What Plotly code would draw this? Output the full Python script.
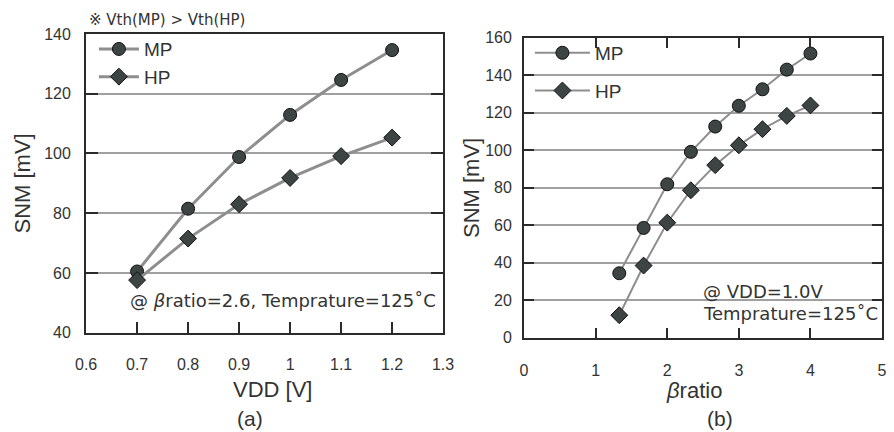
import plotly.graph_objects as go

# (a) SNM versus supply voltage
vdd = [0.7, 0.8, 0.9, 1.0, 1.1, 1.2]
snm_vdd_mp = [60.5, 81.5, 98.8, 112.9, 124.6, 134.6]
snm_vdd_hp = [57.6, 71.5, 83.0, 91.8, 99.1, 105.3]

# (b) SNM versus beta ratio
beta = [1.33, 1.67, 2.0, 2.33, 2.67, 3.0, 3.33, 3.67, 4.0]
snm_beta_mp = [34.3, 58.5, 81.8, 99.1, 112.6, 123.7, 132.5, 143.0, 151.6]
snm_beta_hp = [11.9, 38.4, 61.3, 78.6, 92.0, 102.6, 111.2, 118.3, 123.9]

x_ticks_a = [0.6, 0.7, 0.8, 0.9, 1.0, 1.1, 1.2, 1.3]
x_labels_a = ["0.6", "0.7", "0.8", "0.9", "1", "1.1", "1.2", "1.3"]
y_ticks_a = [40, 60, 80, 100, 120, 140]
x_ticks_b = [0, 1, 2, 3, 4, 5]
y_ticks_b = [0, 20, 40, 60, 80, 100, 120, 140, 160]

W, H = 894, 432
LINE = "#8e8e8e"
MARK = "#3d4444"
FRAME = "#2a2a2a"
GRID = "#a0a0a0"
TXT = "#333333"
FONT = "Liberation Sans, Arial, sans-serif"
NFONT = "DejaVu Sans, Liberation Sans, sans-serif"

fig = go.Figure()

def add_series(x, y, name, symbol, xa, ya, legend, lw, group):
    fig.add_trace(go.Scatter(
        x=x, y=y, name=name, mode="lines+markers",
        line=dict(color=LINE, width=lw),
        marker=dict(symbol=symbol, size=13, color=MARK,
                    line=dict(color="#111111", width=1)),
        xaxis=xa, yaxis=ya, legend=legend, legendgroup=group,
        cliponaxis=False,
    ))

add_series(vdd, snm_vdd_mp, "MP", "circle", "x", "y", "legend", 3, "a1")
add_series(vdd, snm_vdd_hp, "HP", "diamond", "x", "y", "legend", 3, "a2")
add_series(beta, snm_beta_mp, "MP", "circle", "x2", "y2", "legend2", 2, "b1")
add_series(beta, snm_beta_hp, "HP", "diamond", "x2", "y2", "legend2", 2, "b2")

dom_ax = [77 / W, 443 / W]
dom_ay = [1 - 338 / H, 1 - 27 / H]
dom_bx = [526 / W, 893 / W]
dom_by = [1 - 343 / H, 1 - 31 / H]

tickfont = dict(family=FONT, size=16, color=TXT)
common = dict(showline=True, linecolor=FRAME, linewidth=2, ticks="inside",
              tickcolor=FRAME, tickwidth=1.5, tickfont=tickfont,
              zeroline=False, fixedrange=True)

fig.update_layout(
    width=W, height=H,
    margin=dict(l=0, r=0, t=0, b=0),
    paper_bgcolor="white", plot_bgcolor="white",
    xaxis=dict(domain=dom_ax, range=[0.6, 1.3], tickvals=x_ticks_a,
               ticktext=x_labels_a, showgrid=False, mirror=True,
               ticklen=11, ticklabelstandoff=16, anchor="y", **common),
    yaxis=dict(domain=dom_ay, range=[40, 140], tickvals=y_ticks_a,
               showgrid=True, gridcolor=GRID, gridwidth=1.5, mirror="ticks",
               ticklen=12, ticklabelstandoff=10, anchor="x", **common),
    xaxis2=dict(domain=dom_bx, range=[0, 5], tickvals=x_ticks_b,
                showgrid=False, mirror="ticks", ticklen=10,
                ticklabelstandoff=17, anchor="y2", **common),
    yaxis2=dict(domain=dom_by, range=[0, 160], tickvals=y_ticks_b,
                showgrid=True, gridcolor=GRID, gridwidth=1.5, mirror="ticks",
                ticklen=10, ticklabelstandoff=7, anchor="x2", **common),
    legend=dict(x=85 / W, y=1 - 23 / H, xanchor="left", yanchor="top",
                bgcolor="rgba(0,0,0,0)", traceorder="grouped",
                tracegroupgap=0, itemwidth=40,
                font=dict(family=FONT, size=19, color=TXT)),
    legend2=dict(x=532 / W, y=1 - 27 / H, xanchor="left", yanchor="top",
                 bgcolor="rgba(0,0,0,0)", traceorder="grouped",
                 tracegroupgap=10, itemwidth=55,
                 font=dict(family=FONT, size=19, color=TXT)),
    showlegend=True,
)

def note(text, x, y, size, xanchor="center", angle=0, font=FONT):
    fig.add_annotation(text=text, x=x / W, y=1 - y / H, xref="paper",
                       yref="paper", showarrow=False, xanchor=xanchor,
                       yanchor="middle", textangle=angle,
                       font=dict(family=font, size=size, color=TXT))

# axis titles and panel labels
note("SNM [mV]", 12, 183, 22, angle=-90)
note("VDD [V]", 268, 397, 22)
note("(a)", 245, 427, 21)
note("SNM [mV]", 472, 187, 22, angle=-90)
note("<i>β</i>ratio", 700, 398, 22)
note("(b)", 727, 427, 21)

# condition notes
note("※ Vth(MP) > Vth(HP)", 78, 12, 15, xanchor="left", font=NFONT)
note("@ <i>β</i>ratio=2.6, Temprature=125˚C", 438, 305, 18,
     xanchor="right", font=NFONT)
note("@ VDD=1.0V", 707, 295, 18, xanchor="left", font=NFONT)
note("Temprature=125˚C", 707, 318, 18, xanchor="left", font=NFONT)

fig.write_html("out.html")
